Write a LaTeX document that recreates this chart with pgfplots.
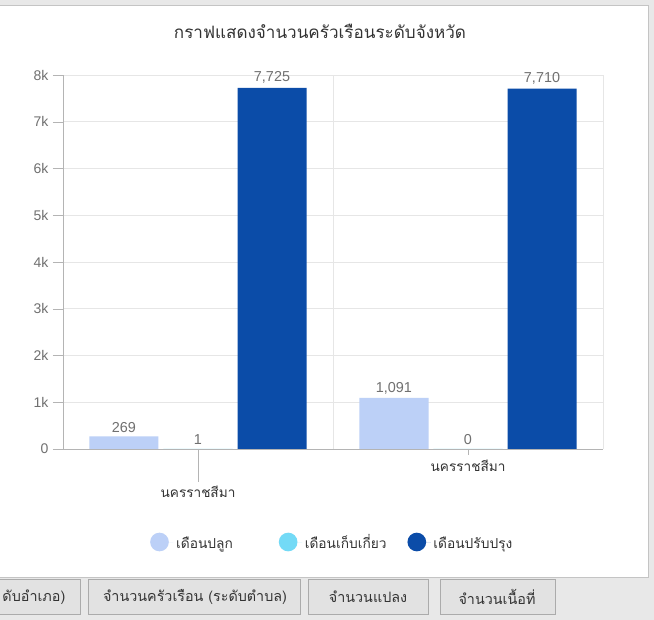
\documentclass[border=0pt]{standalone}
\usepackage{fontspec}
\setmainfont{Liberation Sans}
\newfontfamily\thai[Script=Thai]{Loma}
\usepackage{pgfplots}
\pgfplotsset{compat=1.18}
\definecolor{cA}{HTML}{BCD0F7}
\definecolor{cB}{HTML}{73DAF6}
\definecolor{cC}{HTML}{0B4CA8}
\definecolor{bg}{HTML}{E8E8E8}
\definecolor{panelb}{HTML}{C4C4C4}
\definecolor{gridc}{HTML}{E6E6E6}
\definecolor{axc}{HTML}{B4B4B4}
\definecolor{txt}{HTML}{333333}
\definecolor{lab}{HTML}{707070}
\definecolor{btn}{HTML}{E2E2E2}
\definecolor{btnb}{HTML}{ABABAB}
\newcommand\lph{\vphantom{เกี่ยวปลู}}
\begin{document}
\begin{tikzpicture}
\clip (0,0) rectangle (490.5pt,465pt);
\begin{scope}[shift={(0pt,465pt)},x=0.75pt,y=-0.75pt]
\fill[bg] (0,0) rectangle (654,620);
\filldraw[fill=white,draw=panelb] (-2,5) rectangle (648,577);
\node[font=\thai\fontsize{12.8}{15}\selectfont, text=txt] at (320,31) {กราฟแสดงจำนวนครัวเรือนระดับจังหวัด};
\filldraw[fill=btn,draw=btnb] (-150,579) rectangle (80,614);
\node[anchor=east,font=\thai\fontsize{10.75}{13}\selectfont, text=txt] at (70,597) {ดับอำเภอ)};
\filldraw[fill=btn,draw=btnb] (88,579) rectangle (300,614);
\node[font=\thai\fontsize{10.75}{13}\selectfont, text=txt] at (195,597) {จำนวนครัวเรือน (ระดับตำบล)};
\filldraw[fill=btn,draw=btnb] (308,579) rectangle (428,614);
\node[font=\thai\fontsize{10.75}{13}\selectfont, text=txt] at (368,597) {จำนวนแปลง};
\filldraw[fill=btn,draw=btnb] (440,579) rectangle (555,614);
\node[font=\thai\fontsize{10.75}{13}\selectfont, text=txt] at (497,597) {จำนวนเนื้อที่};
\end{scope}
\begin{axis}[
  at={(47.25pt,128.25pt)}, anchor=south west,
  scale only axis, width=405pt, height=280.5pt,
  xmin=0, xmax=2, ymin=0, ymax=8000, clip=false,
  ybar, bar width=0.2556,
  axis x line*=bottom, axis y line*=left,
  axis line style={draw=axc},
  xtick=\empty,
  extra x ticks={1,2}, extra x tick labels={},
  extra x tick style={grid=major, major tick length=0pt},
  ytick={0,1000,2000,3000,4000,5000,6000,7000,8000},
  yticklabels={0,1k,2k,3k,4k,5k,6k,7k,8k},
  ymajorgrids, major grid style={draw=gridc},
  tick align=outside, major tick length=7.5pt,
  ytick style={draw=axc},
  yticklabel style={font=\fontsize{10.5}{12}\selectfont, text=lab},
  nodes near coords,
  nodes near coords style={font=\fontsize{10.8}{12}\selectfont, text=lab, yshift=-0.5pt},
  legend style={at={(axis description cs:0.1535,-0.2487)}, anchor=west, draw=none, fill=none,
    legend columns=3, font=\thai\fontsize{10.3}{12}\selectfont, text=txt},
  legend cell align=left,
  /pgf/number format/.cd, 1000 sep={,}, assume math mode=true
]
\addplot[bar shift=-0.2741, fill=cA, draw=none,
  legend image code/.code={\fill[cA] (7pt,0pt) circle (7pt);\path (0pt,0pt) -- (17.5pt,0pt);}]
  coordinates {(0.5,269) (1.5,1091)};
\addlegendentry{\makebox[75pt][l]{\lph เดือนปลูก}}
\addplot[bar shift=0, fill=cB, draw=none,
  legend image code/.code={\fill[cB] (7pt,0pt) circle (7pt);\path (0pt,0pt) -- (17.5pt,0pt);}]
  coordinates {(0.5,1) (1.5,0)};
\addlegendentry{\makebox[75pt][l]{\lph เดือนเก็บเกี่ยว}}
\addplot[bar shift=0.2741, fill=cC, draw=none,
  legend image code/.code={\fill[cC] (7pt,0pt) circle (7pt);\path (0pt,0pt) -- (17.5pt,0pt);}]
  coordinates {(0.5,7725) (1.5,7710)};
\addlegendentry{\makebox[75pt][l]{\lph เดือนปรับปรุง}}
\draw[axc] (axis cs:0.5,0) -- ++(0pt,-24.75pt);
\draw[axc] (axis cs:1.5,0) -- ++(0pt,-4.5pt);
\node[font=\thai\fontsize{10.2}{12}\selectfont, text=txt] at ([yshift=-32.25pt]axis cs:0.5,0) {นครราชสีมา};
\node[font=\thai\fontsize{10.2}{12}\selectfont, text=txt] at ([yshift=-12.75pt]axis cs:1.5,0) {นครราชสีมา};
\end{axis}
\end{tikzpicture}
\end{document}
